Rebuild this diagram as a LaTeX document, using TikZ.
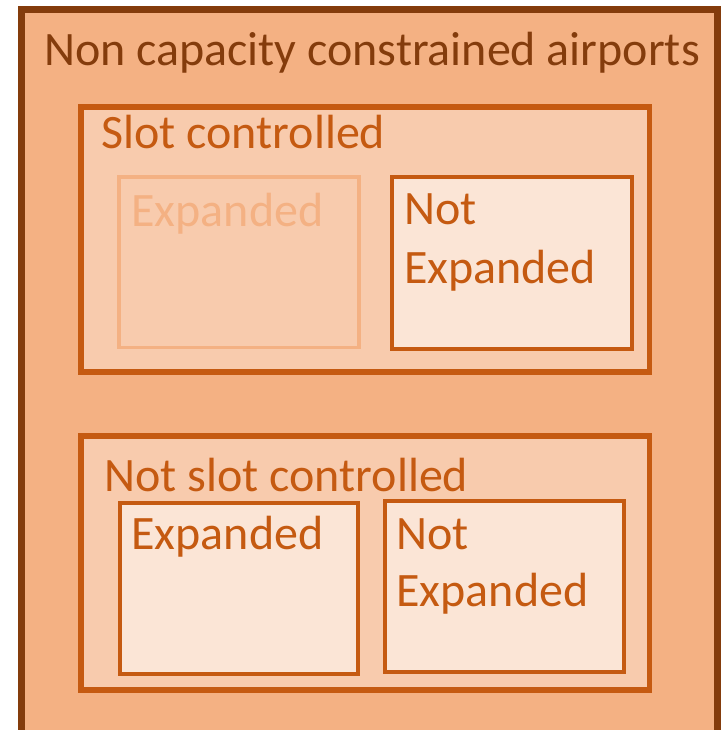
\documentclass[tikz,border=0pt]{standalone}
\usepackage{fontspec}
\setmainfont{Carlito}
\definecolor{outerfill}{HTML}{F4B183}
\definecolor{outerline}{HTML}{843C0C}
\definecolor{midfill}{HTML}{F8CBAD}
\definecolor{orangeline}{HTML}{C55A11}
\definecolor{innerfill}{HTML}{FBE5D6}
\tikzset{
  outerbox/.style={draw=outerline, fill=outerfill, line width=7pt},
  midbox/.style={draw=orangeline, fill=midfill, line width=5.5pt},
  innerbox/.style={draw=orangeline, fill=innerfill, line width=4pt},
  fadedbox/.style={draw=outerfill, fill=midfill, line width=3.5pt},
  lbl/.style={anchor=base west, inner sep=0pt, outer sep=0pt, font=\fontsize{48}{58}\selectfont, text=orangeline},
  titlelbl/.style={lbl, text=outerline},
  fadedlbl/.style={lbl, text=outerfill},
}
\begin{document}
\begin{tikzpicture}[x=1pt,y=-1pt]
\useasboundingbox (0,0) rectangle (723,730);
\clip (0,0) rectangle (723,730);
% outer
\draw[outerbox] (21.5,9.5) rectangle (717,733);
\node[titlelbl] (title) at (44,65.3) {Non capacity constrained airports};
% slot controlled
\draw[midbox] (81,107) rectangle (649.5,372);
\node[lbl] (slot) at (101.5,148.3) {Slot controlled};
\draw[fadedbox] (119,177) rectangle (359,347.5);
\node[fadedlbl] (exp1) at (131.5,226) {Expanded};
\draw[innerbox] (391.5,177) rectangle (631.5,349);
\node[lbl] (not1) at (404,224.8) {Not};
\node[lbl] (nexp1) at (404,283) {Expanded};
% not slot controlled
\draw[midbox] (81,436) rectangle (649.5,690);
\node[lbl] (notslot) at (104.5,491) {Not slot controlled};
\draw[innerbox] (120,503) rectangle (358,674);
\node[lbl] (exp2) at (131.5,549.5) {Expanded};
\draw[innerbox] (384.7,501.3) rectangle (624,671.5);
\node[lbl] (not2) at (396.5,549.5) {Not};
\node[lbl] (nexp2) at (396.5,606.3) {Expanded};
\end{tikzpicture}
\end{document}
